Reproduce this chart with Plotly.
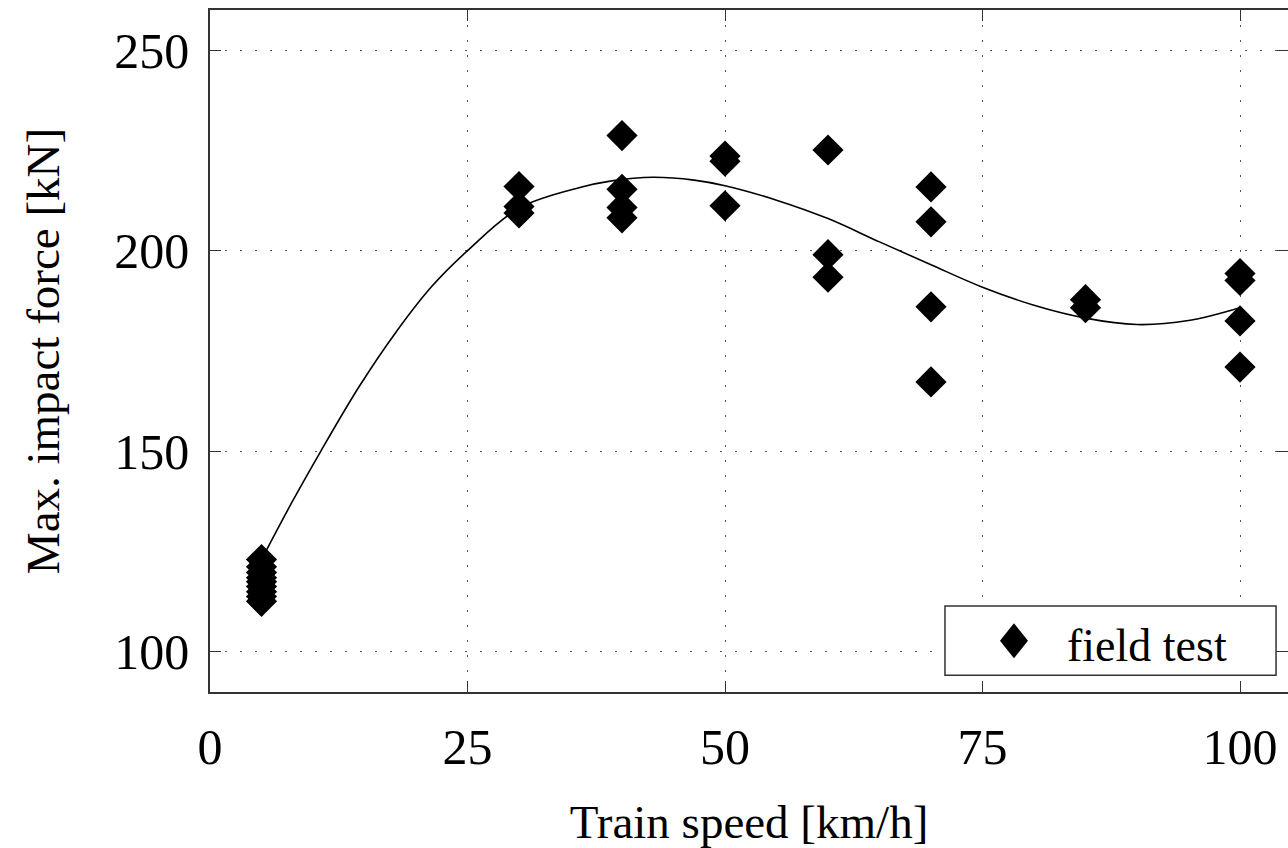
import plotly.graph_objects as go

# Field test measurements (train speed in km/h, max. impact force in kN)
speed = [5, 5, 5, 5, 5, 5, 5, 5, 5,
         30, 30, 30,
         40, 40, 40, 40,
         50, 50, 50,
         60, 60, 60,
         70, 70, 70, 70,
         85, 85,
         100, 100, 100, 100]
force = [123, 121.2, 119.8, 118.5, 117.5, 116.3, 115, 113.8, 112.6,
         216, 211, 209.4,
         228.7, 215.3, 210.8, 208.2,
         223.6, 222.3, 211.2,
         225.1, 199, 193.4,
         215.9, 207.2, 186, 167.3,
         187.8, 185.8,
         194.3, 192.6, 182.5, 171]

# Fitted trend curve
fit_x = [5, 8, 10.75, 14.5, 18, 21.5, 25, 30, 36, 39, 43, 47, 50, 55, 60, 65, 70, 75, 80, 85, 90, 95, 100]
fit_y = [123, 137.5, 150, 166.2, 179.5, 191, 200, 210.6, 215.8, 217.4, 218.3, 217.6, 216.2, 212.6, 208,
         202.2, 196.5, 190.9, 186.4, 183.2, 181.6, 182.6, 185.8]

x_ticks = [0, 25, 50, 75, 100]
y_ticks = [100, 150, 200, 250]

FONT = "Liberation Serif"
TICK_FS = 50
TITLE_FS = 47
LEG_FS = 46

fig = go.Figure()
fig.add_trace(go.Scatter(x=fit_x, y=fit_y, mode="lines",
                         line=dict(color="black", width=1.6, shape="spline", smoothing=1.0),
                         showlegend=False, hoverinfo="skip"))
fig.add_trace(go.Scatter(x=speed, y=force, mode="markers", name="field test",
                         marker=dict(symbol="diamond", size=24, color="black", line=dict(width=0)),
                         showlegend=False))

axis_common = dict(
    ticks="inside", ticklen=11, tickwidth=1.3, tickcolor="#333",
    showline=True, linecolor="#333", linewidth=1.5, mirror="ticks",
    showgrid=True, gridcolor="#555", gridwidth=1.3, griddash="2px,13px",
    zeroline=False, tickfont=dict(family=FONT, size=TICK_FS, color="black"),
)

fig.update_xaxes(range=[0, 104.66], tickvals=x_ticks, ticklabelstandoff=10,
                 title=dict(text="Train speed [km/h]", font=dict(family=FONT, size=TITLE_FS, color="black"), standoff=32),
                 **axis_common)
fig.update_yaxes(range=[90, 260], tickvals=y_ticks, ticklabelstandoff=9,
                 title=dict(text="Max. impact force [kN]", font=dict(family=FONT, size=TITLE_FS, color="black"), standoff=40),
                 **axis_common)

# Legend box drawn by hand (paper coordinates)
fig.add_shape(type="rect", xref="paper", yref="paper", x0=0.6818, x1=0.9889, y0=0.0245, y1=0.1262,
              line=dict(color="#333", width=1.5), fillcolor="white", layer="above")
cx, cy, hw, hh = 0.7458, 0.0751, 0.01299, 0.02567
fig.add_shape(type="path", xref="paper", yref="paper",
              path=f"M {cx-hw} {cy} L {cx} {cy+hh} L {cx+hw} {cy} L {cx} {cy-hh} Z",
              fillcolor="black", line=dict(width=0), layer="above")
fig.add_annotation(xref="paper", yref="paper", x=0.7931, y=0.0685, xanchor="left", yanchor="middle",
                   text="field test", showarrow=False, font=dict(family=FONT, size=LEG_FS, color="black"))

fig.update_layout(width=1288, height=848, margin=dict(l=210, r=0, t=10, b=156, autoexpand=False),
                  plot_bgcolor="white", paper_bgcolor="white", showlegend=False)

fig.write_html("out.html")
